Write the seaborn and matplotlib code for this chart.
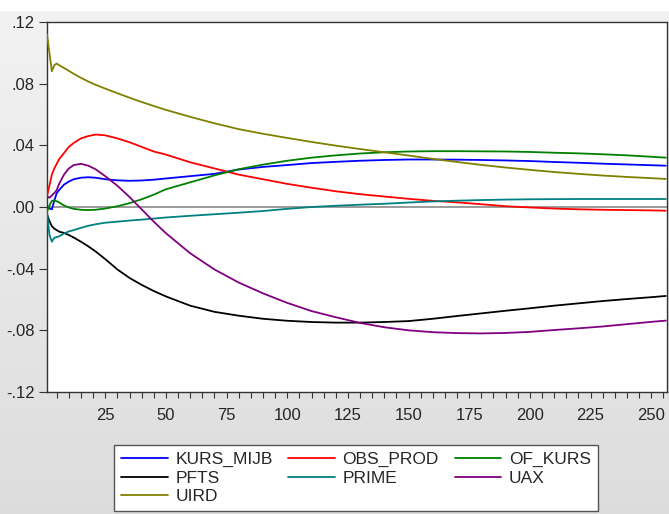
import numpy as np
import pandas as pd
import matplotlib
matplotlib.use("Agg")
import matplotlib.pyplot as plt
from matplotlib.ticker import FixedLocator, MultipleLocator, FuncFormatter
import seaborn as sns

periods = [1, 2, 3, 4, 5, 6, 8, 10, 12, 15, 18, 21, 25, 30, 35, 40, 45, 50, 60, 70,
           80, 90, 100, 110, 120, 130, 140, 150, 160, 170, 180, 190, 200, 210, 220,
           230, 240, 250, 256]

kurs_mijb = [0.0, -0.001, -0.0015, 0.004, 0.009, 0.011, 0.0145, 0.0165, 0.018, 0.019,
             0.0193, 0.019, 0.018, 0.0173, 0.017, 0.0172, 0.0177, 0.0185, 0.020, 0.0215,
             0.0243, 0.026, 0.0272, 0.0285, 0.0293, 0.030, 0.0305, 0.0308, 0.0308, 0.0307,
             0.0305, 0.0302, 0.0298, 0.0292, 0.0287, 0.0281, 0.0276, 0.0271, 0.0268]
obs_prod = [0.007, 0.014, 0.021, 0.025, 0.028, 0.031, 0.035, 0.039, 0.0415, 0.0445,
            0.046, 0.047, 0.0465, 0.0445, 0.042, 0.039, 0.036, 0.034, 0.029, 0.025,
            0.021, 0.018, 0.015, 0.0125, 0.0102, 0.0083, 0.0068, 0.0053, 0.004, 0.003,
            0.0018, 0.0005, -0.0003, -0.001, -0.0015, -0.0018, -0.002, -0.0022, -0.0024]
of_kurs = [-0.003, 0.001, 0.004, 0.0043, 0.0037, 0.003, 0.001, -0.0003, -0.0012, -0.0018,
           -0.002, -0.0018, -0.001, 0.0005, 0.0025, 0.005, 0.008, 0.0115, 0.016, 0.0205,
           0.0245, 0.0275, 0.030, 0.032, 0.0335, 0.0347, 0.0355, 0.036, 0.0362, 0.0362,
           0.0361, 0.036, 0.0357, 0.0352, 0.0348, 0.0342, 0.0335, 0.0326, 0.032]
pfts = [-0.005, -0.009, -0.0125, -0.014, -0.015, -0.016, -0.0168, -0.0182, -0.0198, -0.0225,
        -0.0255, -0.0288, -0.0338, -0.0405, -0.046, -0.0505, -0.0545, -0.058, -0.064, -0.068,
        -0.0705, -0.0725, -0.0738, -0.0746, -0.075, -0.075, -0.0746, -0.074, -0.0725, -0.0707,
        -0.069, -0.0673, -0.0657, -0.064, -0.0625, -0.061, -0.0597, -0.0585, -0.0577]
prime = [-0.003, -0.018, -0.0225, -0.020, -0.0195, -0.019, -0.0172, -0.0158, -0.015, -0.0135,
         -0.0122, -0.0112, -0.0102, -0.0095, -0.0088, -0.0082, -0.0075, -0.0068, -0.0057, -0.0047,
         -0.0037, -0.0026, -0.0012, 0.0, 0.0008, 0.0015, 0.0021, 0.0029, 0.0036, 0.0041,
         0.0045, 0.0048, 0.005, 0.0051, 0.0052, 0.0052, 0.0052, 0.0052, 0.0052]
uax = [0.007, 0.006, 0.0075, 0.009, 0.011, 0.015, 0.021, 0.025, 0.0272, 0.028,
       0.0268, 0.0245, 0.020, 0.0138, 0.0065, -0.0015, -0.0095, -0.017, -0.030, -0.0405,
       -0.049, -0.056, -0.0622, -0.0675, -0.0715, -0.0752, -0.078, -0.080, -0.0812, -0.0818,
       -0.082, -0.0817, -0.081, -0.0798, -0.0787, -0.0775, -0.076, -0.0745, -0.0737]
uird = [0.112, 0.100, 0.088, 0.092, 0.093, 0.092, 0.0902, 0.0883, 0.0864, 0.0838,
        0.0814, 0.0793, 0.0768, 0.0738, 0.0709, 0.0681, 0.0655, 0.063, 0.0585, 0.0543,
        0.0505, 0.0475, 0.0448, 0.0422, 0.0398, 0.0376, 0.0355, 0.0334, 0.0312, 0.0292,
        0.0273, 0.0256, 0.0241, 0.0227, 0.0215, 0.0204, 0.0195, 0.0187, 0.0182]

names = ["KURS_MIJB", "OBS_PROD", "OF_KURS", "PFTS", "PRIME", "UAX", "UIRD"]
series = [kurs_mijb, obs_prod, of_kurs, pfts, prime, uax, uird]
colors = ["#0000ff", "#ff0000", "#008000", "#000000", "#008080", "#800080", "#808000"]

df = pd.concat([pd.DataFrame({"period": periods, "value": s, "series": n})
                for n, s in zip(names, series)], ignore_index=True)

sns.set_style("white")
plt.rcParams["font.family"] = ["Liberation Sans", "DejaVu Sans"]

fig = plt.figure(figsize=(6.69, 5.14), dpi=100)

# grey gradient background with a white strip on top
bg = fig.add_axes([0, 0, 1, 1], zorder=-10)
grad = np.linspace(0.95, 0.865, 256).reshape(-1, 1)
bg.imshow(np.dstack([grad, grad, grad]), aspect="auto", extent=[0, 1, 0, 1 - 10 / 514])
bg.axhspan(1 - 10 / 514, 1, color="white")
bg.set_xlim(0, 1)
bg.set_ylim(0, 1)
bg.axis("off")

ax = fig.add_axes([47 / 669, 122 / 514, 620 / 669, 370 / 514])
ax.set_facecolor("white")
ax.axhline(0, color="#808080", lw=1.1, zorder=1)

sns.lineplot(data=df, x="period", y="value", hue="series", hue_order=names,
             palette=colors, linewidth=1.3, ax=ax, legend=False, zorder=3)

ax.set_xlim(1, 256.5)
ax.set_ylim(-0.12, 0.12)
ax.set_xlabel("")
ax.set_ylabel("")

ax.xaxis.set_major_locator(FixedLocator(np.arange(25, 251, 25)))
ax.xaxis.set_minor_locator(MultipleLocator(5))
ax.yaxis.set_major_locator(FixedLocator(np.arange(-0.12, 0.121, 0.04)))


def fmt(v, pos):
    s = f"{v:.2f}"
    if s == "-0.00":
        s = "0.00"
    return s.replace("0.", ".", 1)


ax.yaxis.set_major_formatter(FuncFormatter(fmt))
ax.tick_params(axis="x", which="both", direction="out", length=4.5, width=0.8,
               color="#333333", bottom=True, labelsize=12, pad=7)
ax.tick_params(axis="y", which="major", direction="out", length=6, width=0.8,
               color="#333333", left=True, labelsize=12, pad=3)
for sp in ax.spines.values():
    sp.set_color("#333333")
    sp.set_linewidth(1.0)

# legend filled row by row like the original: reorder for matplotlib's column fill
order = [0, 3, 6, 1, 4, 2, 5]
handles = [plt.Line2D([], [], color=colors[i], lw=1.3) for i in order]
labels = [names[i] for i in order]
leg = fig.legend(handles, labels, loc="upper center", bbox_to_anchor=(356 / 669, 1 - 445 / 514),
                 ncol=3, fontsize=12.5, frameon=True, fancybox=False, handlelength=2.7,
                 handletextpad=0.42, columnspacing=0.9, labelspacing=0.2, borderpad=0.4,
                 borderaxespad=0)
leg.get_frame().set_edgecolor("#555555")
leg.get_frame().set_linewidth(1.0)
leg.get_frame().set_facecolor("white")
leg.get_frame().set_alpha(1)

fig.savefig("out.png", dpi=100)
